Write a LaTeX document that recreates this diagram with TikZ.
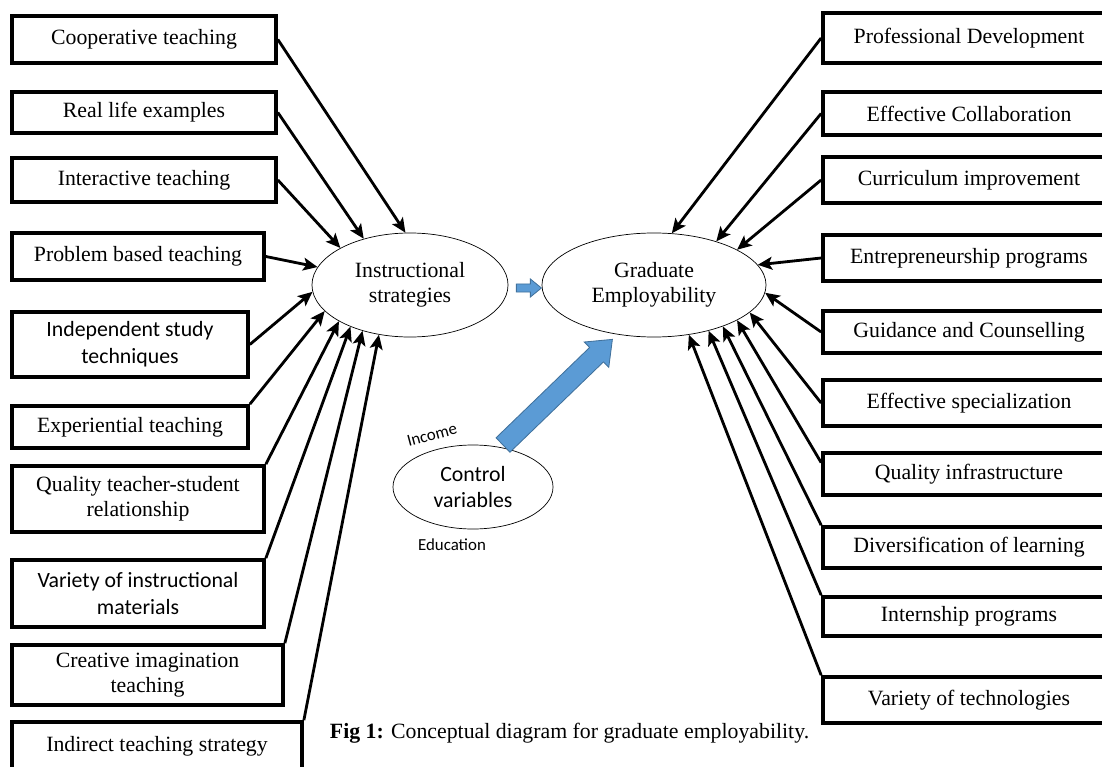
\documentclass[tikz,border=0pt]{standalone}
\usepackage{fontspec}
\setmainfont{Liberation Serif}
\newfontfamily\calfont{Carlito}
\usepackage{tikz}
\usetikzlibrary{arrows.meta,positioning,calc,shapes.geometric}
\definecolor{blkfill}{RGB}{91,155,213}
\definecolor{blkedge}{RGB}{65,113,156}

\begin{document}
\begin{tikzpicture}[
      x=0.025cm, y=0.025cm,
      font=\fontsize{15.5}{17.7}\selectfont,
      box/.style={draw, line width=2.6pt, align=center, inner sep=2pt, minimum height=1.1cm},
      lbox/.style={box, minimum width=6.6cm},
      rbox/.style={box, minimum width=7.3cm},
      ell/.style={draw, ellipse, line width=0.5pt, inner sep=0pt, align=center},
      arr/.style={-{Stealth[length=3.6mm, width=3.2mm, inset=0.8mm]}, line width=2pt},
      blk/.style={draw=blkedge, fill=blkfill, line width=0.6pt, line join=miter},
      cal/.style={font=\calfont\fontsize{15.5}{19}\selectfont},
      lbl/.style={font=\calfont\fontsize{12}{14}\selectfont},
    ]
    \useasboundingbox (0,0) rectangle (1102,-767);

    % teaching strategies, left column
    \node[lbox, minimum height=1.175cm] (s1) at (144,-39.5) {Cooperative teaching};
    \node[lbox, minimum height=1.03cm] (s2) at (144,-112.5) {Real life examples};
    \node[lbox] (s3) at (144,-180) {Interactive teaching};
    \node[box, minimum width=6.3cm, minimum height=1.175cm] (s4) at (138,-256.5) {Problem based teaching};
    \node[box, cal, minimum width=5.9cm, minimum height=1.625cm] (s5) at (130,-344.5) {Independent study\\techniques};
    \node[box, minimum width=5.9cm, minimum height=1.05cm] (s6) at (130,-427) {Experiential teaching};
    \node[box, minimum width=6.3cm, minimum height=1.65cm] (s7) at (138,-499) {Quality teacher-student\\relationship};
    \node[box, cal, minimum width=6.3cm, minimum height=1.675cm] (s8) at (138,-593.5) {Variety of instructional\\materials};
    \node[box, minimum width=6.775cm, minimum height=1.5cm] (s9) at (147.5,-675) {Creative imagination\\teaching};
    \node[box, minimum width=7.25cm, minimum height=1.7cm] (s10) at (157,-756) {Indirect teaching strategy\\\mbox{}};

    % the three constructs
    \node[ell, minimum width=4.9cm, minimum height=2.6cm] (is) at (410,-285) {Instructional\\strategies};
    \node[ell, minimum width=5.6cm, minimum height=2.6cm] (ge) at (654,-285) {Graduate\\Employability};
    \node[ell, cal, minimum width=4cm, minimum height=2.1cm] (cv) at (473,-487) {Control\\variables};
    \node[lbl, rotate=15] (inc) at (432,-435) {Income};
    \node[lbl] (edu) at (452,-545) {Education};

    % employability factors, right column
    \node[rbox, minimum height=1.25cm] (f1) at (969,-38) {Professional Development};
    \node[rbox, minimum height=1.075cm] (f2) at (969,-113.5) {Effective Collaboration};
    \node[rbox, minimum height=1.15cm] (f3) at (969,-180) {Curriculum improvement};
    \node[rbox, minimum height=1.15cm] (f4) at (969,-258) {Entrepreneurship programs};
    \node[rbox, minimum height=1.05cm] (f5) at (969,-332) {Guidance and Counselling};
    \node[rbox, minimum height=1.15cm] (f6) at (969,-403) {Effective specialization};
    \node[rbox, minimum height=1.05cm] (f7) at (969,-474) {Quality infrastructure};
    \node[rbox, minimum height=1.025cm] (f8) at (969,-547.5) {Diversification of learning};
    \node[rbox, minimum height=0.975cm] (f9) at (969,-616.5) {Internship programs};
    \node[rbox, minimum height=1.15cm] (f10) at (969,-700) {Variety of technologies};

    % block arrows
    \coordinate (ist) at ($(is.east)+(8,-3)$);
    \coordinate (cvt) at (503,-445);
    \draw[blk, shift={(ist)}] (0cm,-0.1cm) -- (0.35cm,-0.1cm) -- (0.35cm,-0.225cm) -- (0.625cm,0cm)
      -- (0.35cm,0.225cm) -- (0.35cm,0.1cm) -- (0cm,0.1cm) -- cycle;
    \draw[blk, shift={(cvt)}, rotate=44] (0cm,-0.25cm) -- (3.25cm,-0.25cm) -- (3.25cm,-0.44cm) -- (3.8cm,0cm)
      -- (3.25cm,0.44cm) -- (3.25cm,0.25cm) -- (0cm,0.25cm) -- cycle;

    \draw[arr] (s1.east) -- (is.95);
    \draw[arr] (s2.east) -- (is.135);
    \draw[arr] (s3.east) -- (is.152);
    \draw[arr] (s4.east) -- (is.169);
    \draw[arr] (s5.east) -- (is.184);
    \draw[arr] (s6.north east) -- (is.197);
    \draw[arr] (s7.north east) -- (is.207);
    \draw[arr] (s8.north east) -- (is.215);
    \draw[arr] (s9.north east) -- (is.224);
    \draw[arr] (s10.north east) -- (is.238);

    \draw[arr] (f1.west) -- (ge.71);
    \draw[arr] (f2.west) -- (ge.35);
    \draw[arr] (f3.west) -- (ge.23);
    \draw[arr] (f4.west) -- (ge.11);
    \draw[arr] (f5.west) -- (ge.356);
    \draw[arr] (f6.west) -- (ge.344);
    \draw[arr] ($(f7.north west)!.5!(f7.west)$) -- (ge.337);
    \draw[arr] (f8.north west) -- (ge.329);
    \draw[arr] (f9.north west) -- (ge.320);
    \draw[arr] (f10.north west) -- (ge.305);

    \node[anchor=base west] (cap) at (325,-738) {\textbf{Fig 1:} Conceptual diagram for graduate employability.};
  \end{tikzpicture}
\end{document}
